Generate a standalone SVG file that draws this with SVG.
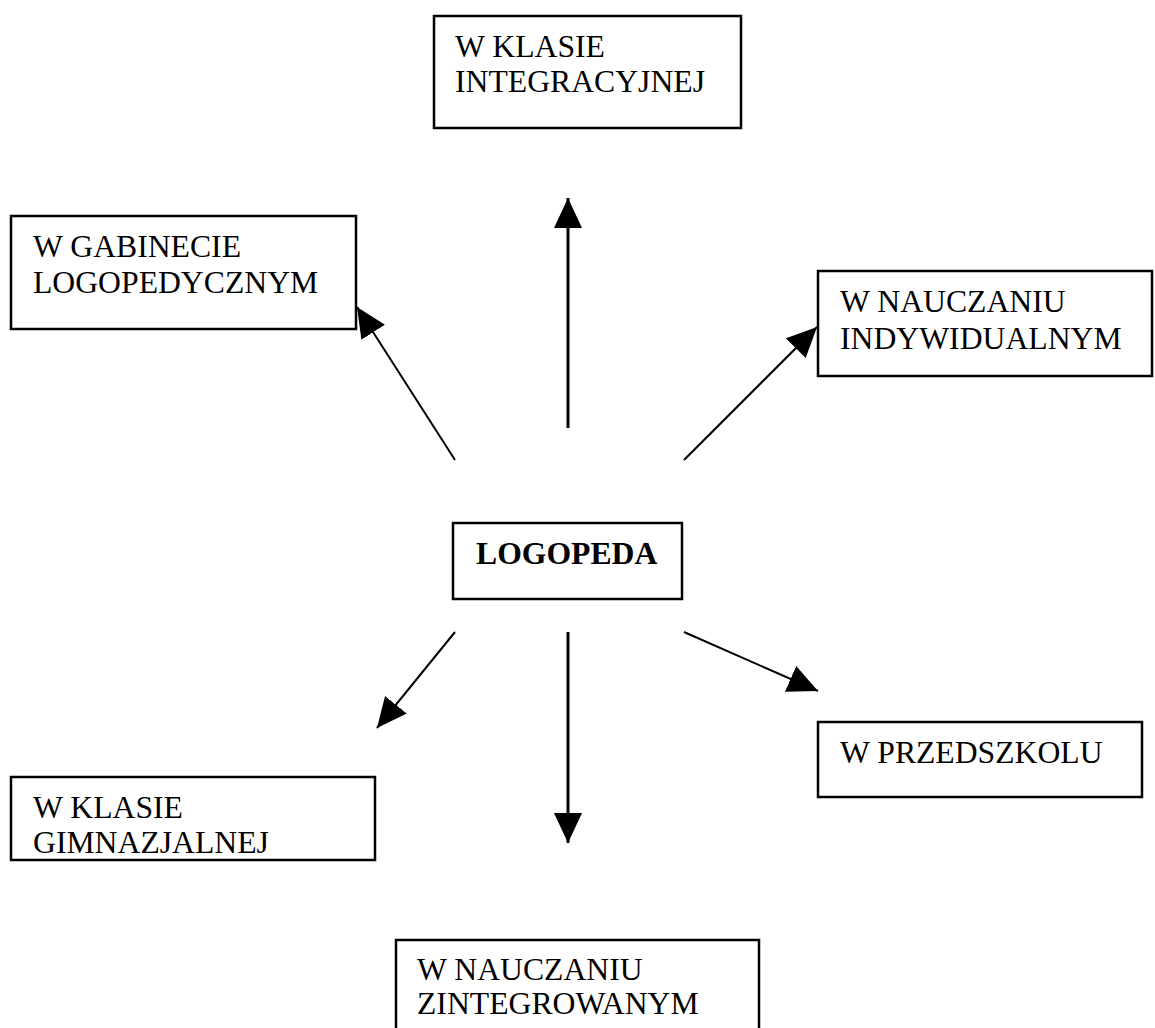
<svg xmlns="http://www.w3.org/2000/svg" width="1155" height="1028" viewBox="0 0 1155 1028">
  <defs>
    <marker id="ah" markerUnits="userSpaceOnUse" markerWidth="32" markerHeight="30" refX="30" refY="14" orient="auto">
      <path d="M0,0 L30,14 L0,28 Z" fill="#000"/>
    </marker>
  </defs>
  <style>
    .box { fill: #fff; stroke: #000; stroke-width: 2.5; }
    .t { font-family: "Liberation Serif", "Times New Roman", serif; font-size: 31.7px; fill: #000; }
    .b { font-weight: bold; }
    .c { stroke: #000; fill: none; marker-end: url(#ah); }
    .v { stroke-width: 3; }
    .d { stroke-width: 2; }
  </style>
  <rect width="1155" height="1028" fill="#fff"/>
  <g id="connectors">
    <line class="c v" x1="568" y1="428" x2="568" y2="198"/>
    <line class="c d" x1="455" y1="460" x2="357" y2="307"/>
    <line class="c d" x1="684" y1="460" x2="817" y2="327"/>
    <line class="c d" x1="455" y1="632" x2="377" y2="728"/>
    <line class="c v" x1="568" y1="632" x2="568" y2="843"/>
    <line class="c d" x1="684" y1="632" x2="818" y2="691"/>
  </g>
  <g id="n-integracyjnej">
    <rect class="box" x="434" y="16" width="307" height="112"/>
    <text class="t" x="455" y="57">W KLASIE</text>
    <text class="t" x="455" y="92">INTEGRACYJNEJ</text>
  </g>
  <g id="n-gabinet">
    <rect class="box" x="11" y="216" width="345" height="113"/>
    <text class="t" x="33" y="257">W GABINECIE</text>
    <text class="t" x="33" y="293">LOGOPEDYCZNYM</text>
  </g>
  <g id="n-indywidualnym">
    <rect class="box" x="818" y="271" width="334" height="105"/>
    <text class="t" x="840" y="312">W NAUCZANIU</text>
    <text class="t" x="840" y="349">INDYWIDUALNYM</text>
  </g>
  <g id="n-logopeda">
    <rect class="box" x="453" y="523" width="229" height="76"/>
    <text class="t b" x="476" y="564">LOGOPEDA</text>
  </g>
  <g id="n-przedszkolu">
    <rect class="box" x="818" y="722" width="324" height="75"/>
    <text class="t" x="840" y="763">W PRZEDSZKOLU</text>
  </g>
  <g id="n-gimnazjalnej">
    <rect class="box" x="11" y="777" width="364" height="83"/>
    <text class="t" x="33" y="818">W KLASIE</text>
    <text class="t" x="33" y="853">GIMNAZJALNEJ</text>
  </g>
  <g id="n-zintegrowanym">
    <rect class="box" x="396" y="940" width="363" height="100"/>
    <text class="t" x="417" y="980">W NAUCZANIU</text>
    <text class="t" x="417" y="1014">ZINTEGROWANYM</text>
  </g>
</svg>
